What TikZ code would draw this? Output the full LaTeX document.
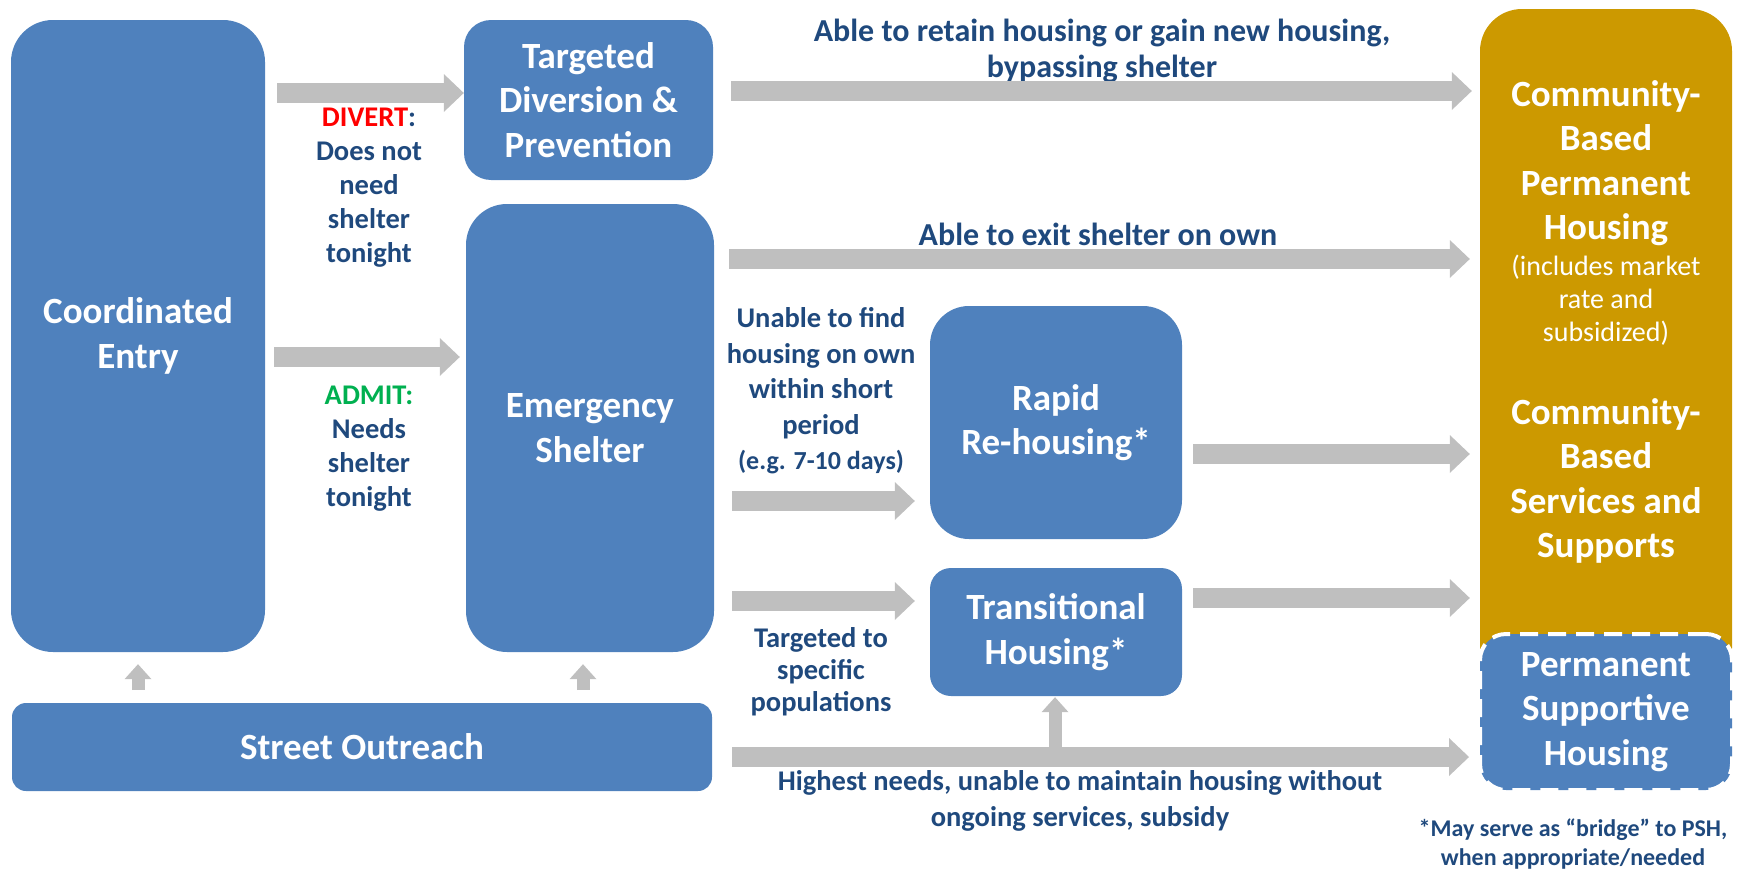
\documentclass[tikz,border=0pt]{standalone}
\usepackage{fontspec}
\setmainfont{Carlito}
\usetikzlibrary{arrows.meta}
\definecolor{boxblue}{HTML}{4F81BD}
\definecolor{txtblue}{HTML}{1F497D}
\definecolor{arrgrey}{HTML}{BFBFBF}
\definecolor{goldc}{HTML}{CC9900}
\definecolor{divred}{HTML}{FF0000}
\definecolor{admgreen}{HTML}{00B050}
\newcommand\boxfnt{\bfseries\fontsize{37}{44.5}\selectfont}
\newcommand\lblfnt{\bfseries\fontsize{28.5}{34}\selectfont}
\newcommand\biglblfnt{\bfseries\fontsize{32}{36}\selectfont}
\newcommand\smallfnt{\fontsize{28}{33}\selectfont}
\newcommand\notefnt{\bfseries\fontsize{24}{29}\selectfont}
\tikzset{
  bluebox/.style={fill=boxblue, draw=none, text=white, font=\boxfnt, align=center, inner sep=0pt},
  goldbox/.style={fill=goldc, draw=none, rounded corners=42pt, inner sep=0pt},
  goldtxt/.style={text=white, font=\boxfnt, align=center, inner sep=0pt},
  goldsmall/.style={text=white, font=\smallfnt, align=center, inner sep=0pt},
  lbl/.style={text=txtblue, font=\lblfnt, align=center, inner sep=0pt},
  biglbl/.style={text=txtblue, font=\biglblfnt, align=center, inner sep=0pt},
  note/.style={text=txtblue, font=\notefnt, align=center, inner sep=0pt},
  fat/.style={draw=arrgrey, line width=20pt, line cap=butt, -{Triangle[length=20pt,width=38pt,line width=0pt]}},
  fatup/.style={draw=arrgrey, line width=13pt, line cap=butt, -{Triangle[length=15pt,width=27pt,line width=0pt]}},
}
\begin{document}
\begin{tikzpicture}[x=1pt,y=-1pt]
\useasboundingbox (0,0) rectangle (1745,870);
% boxes
\node[bluebox, minimum width=254pt, minimum height=632pt, rounded corners=42pt] (ce) at (138,336) {Coordinated\\Entry};
\node[bluebox, minimum width=249pt, minimum height=160pt, rounded corners=27pt] (tdp) at (588.5,100) {Targeted\\Diversion \&\\Prevention};
\node[bluebox, minimum width=248pt, minimum height=448pt, rounded corners=41pt] (es) at (590,428) {Emergency\\Shelter};
\node[bluebox, minimum width=700pt, minimum height=88pt, rounded corners=14pt] (so) at (362,747) {Street Outreach};
\node[bluebox, minimum width=252pt, minimum height=233pt, rounded corners=39pt] (rrh) at (1056,422.5) {Rapid\\Re-housing*};
\node[bluebox, minimum width=252pt, minimum height=128pt, rounded corners=21pt] (th) at (1056,632) {Transitional\\Housing*};
\node[goldbox, minimum width=252pt, minimum height=681pt] (gold) at (1606,349.5) {};
\node[goldtxt] (g1) at (1606,163) {Community-\\Based\\Permanent\\Housing};
\node[goldsmall] (g1s) at (1606,300) {(includes market\\rate and\\subsidized)};
\node[goldtxt] (g2) at (1606,481) {Community-\\Based\\Services and\\Supports};
\node[bluebox, minimum width=252pt, minimum height=156pt, rounded corners=26pt, draw=white, line width=4pt, dash pattern=on 18pt off 10pt] (psh) at (1606,712) {Permanent\\Supportive\\Housing};
% labels
\node[lbl] (ldiv) at (369,187.5) {\textcolor{divred}{DIVERT}:\\Does not\\need\\shelter\\tonight};
\node[lbl] (ladm) at (369,448.5) {\textcolor{admgreen}{ADMIT:}\\Needs\\shelter\\tonight};
\node[biglbl] (lret) at (1102,51) {Able to retain housing or gain new housing,\\bypassing shelter};
\node[biglbl] (lexit) at (1098,234) {Able to exit shelter on own};
\node[lbl, font=\bfseries\fontsize{28.5}{35.5}\selectfont] (lun) at (821,391) {Unable to find\\housing on own\\within short\\period\\{\fontsize{26}{35.5}\selectfont(e.g. 7-10 days)}};
\node[lbl, font=\bfseries\fontsize{28.5}{32}\selectfont] (ltarg) at (821,672) {Targeted to\\specific\\populations};
\node[lbl, font=\bfseries\fontsize{28.5}{36}\selectfont] (lhigh) at (1080,801) {Highest needs, unable to maintain housing without\\ongoing services, subsidy};
\node[note] (lnote) at (1573,844.5) {*May serve as “bridge” to PSH,\\when appropriate/needed};
% arrows
\coordinate (d0) at (277,93);
\draw[fat] (d0) -- (d0 -| tdp.west);
\coordinate (a0) at (274,357);
\draw[fat, shorten >=6pt] (a0) -- (a0 -| es.west);
\coordinate (t0) at (731,91);
\draw[fat, shorten >=8pt] (t0) -- (t0 -| gold.west);
\coordinate (x0) at (729,259);
\draw[fat, shorten >=10pt] (x0) -- (x0 -| gold.west);
\coordinate (r0) at (732,501);
\draw[fat, shorten >=15pt] (r0) -- (r0 -| rrh.west);
\coordinate (h0) at (732,601);
\draw[fat, shorten >=15pt] (h0) -- (h0 -| th.west);
\coordinate (r1) at (1193,454);
\draw[fat, shorten >=10pt] (r1) -- (r1 -| gold.west);
\coordinate (h1) at (1193,598);
\draw[fat, shorten >=10pt] (h1) -- (h1 -| gold.west);
\coordinate (p0) at (732,757);
\draw[fat, shorten >=9pt] (p0) -- (p0 -| psh.west);
\coordinate (u1) at (138,690);
\draw[fatup, shorten >=12pt] (u1) -- (ce.south);
\coordinate (u2) at (583,690);
\draw[fatup, shorten >=12pt] (u2) -- (u2 |- es.south);
\coordinate (u3) at (1055,750);
\draw[fatup, shorten >=1pt] (u3) -- (u3 |- th.south);
\end{tikzpicture}
\end{document}
